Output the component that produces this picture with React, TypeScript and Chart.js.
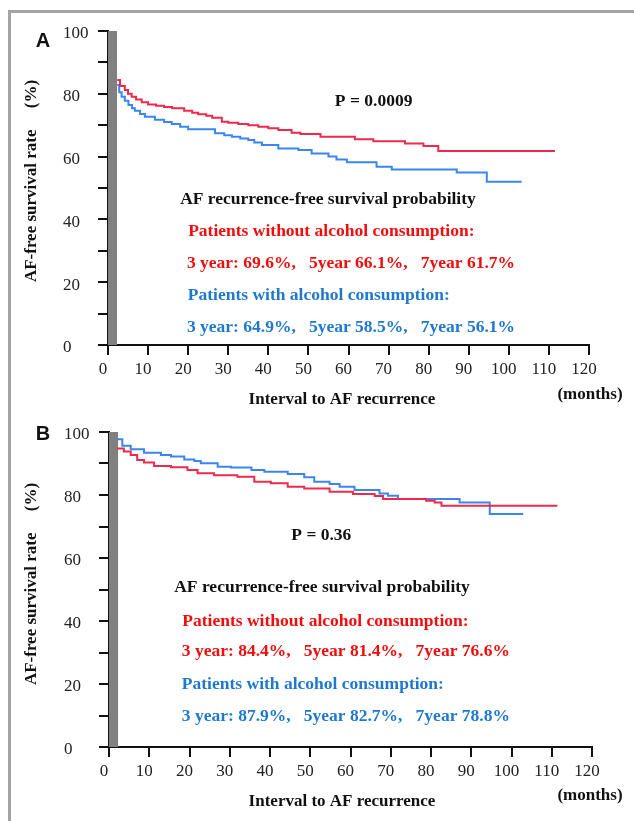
import React, { useEffect, useRef } from 'react';
import { Chart, registerables } from 'chart.js';

Chart.register(...registerables);

// ---------- data ----------
// Panel A: Kaplan–Meier curves (months, survival %)
const aRedMonths = [2.3, 3, 4.2, 5, 5.9, 7, 8.4, 10, 12, 14, 16, 19, 21, 22.5, 24.5, 26, 28.4, 30, 32.5, 35, 37.5, 40, 42.5, 45.8, 48, 53, 61.6, 66.2, 74.1, 78.7, 82.4, 111.5];
const aRedSurvival = [84.4, 82.5, 81.2, 80, 79.1, 78.2, 77.3, 76.6, 76.2, 75.8, 75.4, 74.6, 74.0, 73.5, 73.0, 72.4, 71.1, 70.8, 70.4, 70.0, 69.5, 69.0, 68.5, 67.6, 67.2, 66.3, 65.5, 64.9, 64.2, 63.4, 61.8, 61.8];
const aBlueMonths = [2.3, 2.8, 3.4, 4.2, 5.1, 6, 6.7, 8, 9.2, 11.7, 14, 15.9, 18, 20, 26.7, 29, 30.9, 33, 35, 36.5, 38.4, 42.5, 47.5, 50.8, 55, 57, 59.6, 67, 70.8, 87, 94.5, 103.2];
const aBlueSurvival = [82.8, 80.5, 79.1, 77.8, 76.4, 75.4, 74.6, 73.6, 72.7, 71.7, 71.0, 70.4, 69.5, 68.7, 67.4, 66.8, 66.3, 65.8, 65.3, 64.5, 63.7, 62.6, 62.1, 61.0, 60.0, 59.1, 58.2, 56.8, 55.9, 54.9, 52.0, 52.0];

// Panel B
const bRedMonths = [2, 3.7, 5.4, 7, 8.7, 11.2, 15.4, 19.5, 22, 26.1, 31.9, 36.1, 40.2, 44.4, 48.5, 54.8, 60.6, 66, 68.1, 78.8, 80.9, 82.6, 111.4];
const bRedSurvival = [94.8, 93.8, 92.7, 91.1, 90.3, 89.2, 88.8, 87.9, 86.9, 86.3, 85.8, 84.2, 83.7, 82.6, 82.1, 81.0, 80.3, 79.7, 78.7, 78.2, 77.6, 76.6, 76.6];
const bBlueMonths = [2, 3.3, 5.4, 8.7, 12.9, 15.4, 18.7, 21.2, 22.8, 27, 30.3, 35.4, 38.6, 44.4, 48.5, 51, 54.8, 57.3, 61, 67.2, 69.3, 71.8, 87.1, 94.6, 102.9];
const bBlueSurvival = [97.7, 95.6, 94.5, 93.4, 92.7, 92.2, 91.3, 90.8, 90.1, 89.0, 88.7, 87.9, 87.4, 86.7, 85.6, 84.2, 83.5, 82.6, 81.6, 80.5, 79.8, 78.7, 77.6, 74.0, 74.0];

// shaded band at start of follow-up (months, %)
const bandMonths = [0, 2.3];
const bandSurvival = [100, 100];

// axis ranges / labels
const xMin = 0, xMax = 120, xStep = 10;
const yMin = 0, yMax = 100, yStep = 10, yLabelEvery = 20;

const xTitle = 'Interval to AF recurrence';
const xUnit = '(months)';
const yTitle = 'AF-free survival rate     (%)';
const summaryTitle = 'AF recurrence-free survival probability';
const groupWithout = 'Patients without alcohol consumption:';
const groupWith = 'Patients with alcohol consumption:';

const aP = 'P = 0.0009';
const aWithoutRates = '3 year: 69.6%,   5year 66.1%,   7year 61.7%';
const aWithRates = '3 year: 64.9%,   5year 58.5%,   7year 56.1%';
const bP = 'P = 0.36';
const bWithoutRates = '3 year: 84.4%,   5year 81.4%,   7year 76.6%';
const bWithRates = '3 year: 87.9%,   5year 82.7%,   7year 78.8%';

// ---------- styles ----------
const SERIF = "'Liberation Serif', 'Times New Roman', Times, serif";
const SANS = "'Liberation Sans', Arial, Helvetica, sans-serif";
const RED_LINE = '#ee2a4c';
const BLUE_LINE = '#3a86ee';
const RED_TEXT = '#f00d0d';
const BLUE_TEXT = '#1f78cc';
const INK = '#111111';
const BAND = '#808080';
const W = 634;

const toPts = (xs: number[], ys: number[]) => xs.map((x, i) => ({ x, y: ys[i] }));

type PanelCfg = {
  letter: string;
  canvasTop: number;
  height: number;
  area: { left: number; right: number; top: number; bottom: number };
  labelLeft: number;
  redX: number[]; redY: number[]; blueX: number[]; blueY: number[];
  pText: string; withoutRates: string; withRates: string;
  pAt: [number, number];
  textX: number[]; textY: number[];
  yTitleY: number; xTitleY: number; unitY: number; letterY: number;
};

const annotPlugin = {
  id: 'annot',
  afterDraw(chart: any, _args: any, opts: any) {
    const c: PanelCfg = opts.cfg;
    if (!c) return;
    const { ctx } = chart;
    const xs = chart.scales.x;
    const ys = chart.scales.y;
    ctx.save();
    // panel letter
    ctx.fillStyle = INK;
    ctx.textAlign = 'center';
    ctx.textBaseline = 'middle';
    ctx.font = `bold 20px ${SANS}`;
    ctx.fillText(c.letter, 43, c.letterY);
    // y title
    ctx.save();
    ctx.translate(32, c.yTitleY);
    ctx.rotate(-Math.PI / 2);
    ctx.font = `bold 17px ${SERIF}`;
    ctx.fillText(yTitle, 0, 0);
    ctx.restore();
    // x title + unit
    ctx.font = `bold 17px ${SERIF}`;
    ctx.fillText(xTitle, 342, c.xTitleY);
    ctx.fillText(xUnit, 590, c.unitY);
    // P value
    ctx.textAlign = 'left';
    ctx.font = `bold 17.5px ${SERIF}`;
    ctx.fillText(c.pText, xs.getPixelForValue(c.pAt[0]), ys.getPixelForValue(c.pAt[1]));
    // summary
    const lines = [summaryTitle, groupWithout, c.withoutRates, groupWith, c.withRates];
    const colors = [INK, RED_TEXT, RED_TEXT, BLUE_TEXT, BLUE_TEXT];
    lines.forEach((t, i) => {
      ctx.fillStyle = colors[i];
      ctx.fillText(t, xs.getPixelForValue(c.textX[i]), ys.getPixelForValue(c.textY[i]));
    });
    ctx.restore();
  },
};

function Panel({ cfg }: { cfg: PanelCfg }) {
  const ref = useRef<HTMLCanvasElement | null>(null);
  useEffect(() => {
    if (!ref.current) return;
    const a = cfg.area;
    const chart = new Chart(ref.current, {
      type: 'line',
      data: {
        datasets: [
          {
            data: toPts(cfg.redX, cfg.redY),
            borderColor: RED_LINE,
            borderWidth: 2,
            stepped: 'before',
            pointRadius: 0,
            fill: false,
          },
          {
            data: toPts(cfg.blueX, cfg.blueY),
            borderColor: BLUE_LINE,
            borderWidth: 2,
            stepped: 'before',
            pointRadius: 0,
            fill: false,
          },
          {
            data: toPts(bandMonths, bandSurvival),
            borderColor: 'rgba(0,0,0,0)',
            borderWidth: 0,
            backgroundColor: BAND,
            pointRadius: 0,
            fill: 'origin',
          },
        ],
      } as any,
      options: {
        animation: false,
        responsive: false,
        maintainAspectRatio: false,
        layout: {
          padding: { left: cfg.labelLeft, top: a.top, right: W - a.right, bottom: 0 },
        },
        plugins: {
          legend: { display: false },
          tooltip: { enabled: false },
          annot: { cfg },
        } as any,
        scales: {
          x: {
            type: 'linear',
            min: xMin,
            max: xMax,
            ticks: {
              stepSize: xStep,
              autoSkip: false,
              maxRotation: 0,
              font: { family: SERIF, size: 17 },
              color: '#222',
              padding: 4,
              labelOffset: -5,
            },
            grid: { drawOnChartArea: false, drawTicks: true, tickLength: 10, color: INK, lineWidth: 2 },
            border: { display: true, color: INK, width: 2 },
            afterFit: (s: any) => { s.height = cfg.height - a.bottom; },
          },
          y: {
            type: 'linear',
            min: yMin,
            max: yMax,
            ticks: {
              stepSize: yStep,
              autoSkip: false,
              crossAlign: 'far',
              labelOffset: 3,
              font: { family: SERIF, size: 17 },
              color: '#222',
              callback: (v: any) => (Math.round(v) % yLabelEvery === 0 ? String(Math.round(v)) : ''),
            },
            grid: { drawOnChartArea: false, drawTicks: true, tickLength: 10, color: INK, lineWidth: 2 },
            border: { display: true, color: INK, width: 2 },
            afterFit: (s: any) => { s.width = a.left - cfg.labelLeft; },
          },
        },
      } as any,
      plugins: [annotPlugin],
    });
    return () => chart.destroy();
  }, [cfg]);
  return (
    <canvas
      ref={ref}
      width={W}
      height={cfg.height}
      style={{ position: 'absolute', left: 0, top: cfg.canvasTop, width: W, height: cfg.height, display: 'block' }}
    />
  );
}

const panelA: PanelCfg = {
  letter: 'A',
  canvasTop: 0,
  height: 410,
  area: { left: 108, right: 589, top: 31, bottom: 345 },
  labelLeft: 63,
  redX: aRedMonths, redY: aRedSurvival, blueX: aBlueMonths, blueY: aBlueSurvival,
  pText: aP, withoutRates: aWithoutRates, withRates: aWithRates,
  pAt: [56.6, 77.7],
  textX: [18, 20, 19.7, 19.9, 19.7],
  textY: [46.5, 36.2, 26.1, 15.9, 5.7],
  yTitleY: 181, xTitleY: 400, unitY: 395, letterY: 41,
};

const panelB: PanelCfg = {
  letter: 'B',
  canvasTop: 410,
  height: 411,
  area: { left: 109, right: 592, top: 22, bottom: 337 },
  labelLeft: 64,
  redX: bRedMonths, redY: bRedSurvival, blueX: bBlueMonths, blueY: bBlueSurvival,
  pText: bP, withoutRates: bWithoutRates, withRates: bWithRates,
  pAt: [45.3, 67.3],
  textX: [16.2, 18.2, 18.1, 18.1, 18.1],
  textY: [50.5, 40, 30.2, 20, 9.8],
  yTitleY: 174, xTitleY: 392, unitY: 386, letterY: 24,
};

export default function App() {
  return (
    <div style={{ position: 'absolute', left: 0, top: 0, width: W, height: 821, overflow: 'hidden', background: '#fff' }}>
      <div style={{ position: 'absolute', left: 8, top: 10, width: W - 8, height: 3, background: '#a3a3a3' }} />
      <div style={{ position: 'absolute', left: 8, top: 10, width: 3, height: 811, background: '#a3a3a3' }} />
      <Panel cfg={panelA} />
      <Panel cfg={panelB} />
    </div>
  );
}
